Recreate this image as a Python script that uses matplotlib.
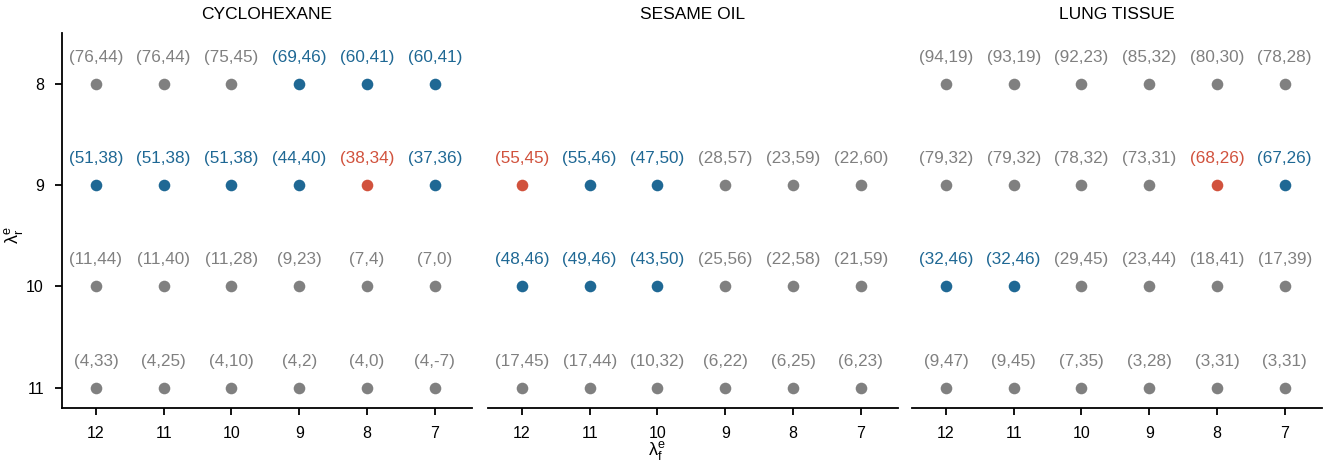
import matplotlib
matplotlib.use("Agg")
import matplotlib.pyplot as plt

plt.rcParams['font.family'] = ['Liberation Sans', 'DejaVu Sans']
plt.rcParams['mathtext.default'] = 'regular'

# lambda_f^e positions (x) and lambda_r^e rows (y)
x_vals = [12, 11, 10, 9, 8, 7]
y_vals = [8, 9, 10, 11]

titles = ['CYCLOHEXANE', 'SESAME OIL', 'LUNG TISSUE']

# labels per row (None = no point), colour code per point: g=grey, b=blue, r=red
cyclo_labels = [
    ['(76,44)', '(76,44)', '(75,45)', '(69,46)', '(60,41)', '(60,41)'],
    ['(51,38)', '(51,38)', '(51,38)', '(44,40)', '(38,34)', '(37,36)'],
    ['(11,44)', '(11,40)', '(11,28)', '(9,23)', '(7,4)', '(7,0)'],
    ['(4,33)', '(4,25)', '(4,10)', '(4,2)', '(4,0)', '(4,-7)'],
]
cyclo_colors = [
    'gggbbb',
    'bbbbrb',
    'gggggg',
    'gggggg',
]

sesame_labels = [
    [None, None, None, None, None, None],
    ['(55,45)', '(55,46)', '(47,50)', '(28,57)', '(23,59)', '(22,60)'],
    ['(48,46)', '(49,46)', '(43,50)', '(25,56)', '(22,58)', '(21,59)'],
    ['(17,45)', '(17,44)', '(10,32)', '(6,22)', '(6,25)', '(6,23)'],
]
sesame_colors = [
    'gggggg',
    'rbbggg',
    'bbbggg',
    'gggggg',
]

lung_labels = [
    ['(94,19)', '(93,19)', '(92,23)', '(85,32)', '(80,30)', '(78,28)'],
    ['(79,32)', '(79,32)', '(78,32)', '(73,31)', '(68,26)', '(67,26)'],
    ['(32,46)', '(32,46)', '(29,45)', '(23,44)', '(18,41)', '(17,39)'],
    ['(9,47)', '(9,45)', '(7,35)', '(3,28)', '(3,31)', '(3,31)'],
]
lung_colors = [
    'gggggg',
    'ggggrb',
    'bbgggg',
    'gggggg',
]

palette = {'g': '#808080', 'b': '#1f6894', 'r': '#d1523d'}

panels = [
    (cyclo_labels, cyclo_colors),
    (sesame_labels, sesame_colors),
    (lung_labels, lung_colors),
]

fig = plt.figure(figsize=(13.27, 4.63), dpi=100)
W, H = 1327.0, 463.0
lefts = [62, 488, 912]
width = 410
bottom, top = 408, 33

for i, (labels, colors) in enumerate(panels):
    ax = fig.add_axes([lefts[i] / W, 1 - bottom / H, width / W, (bottom - top) / H])
    for r, y in enumerate(y_vals):
        for c, x in enumerate(x_vals):
            lab = labels[r][c]
            if lab is None:
                continue
            col = palette[colors[r][c]]
            ax.scatter(x, y, s=70, color=col, zorder=3, linewidths=0)
            ax.annotate(lab, (x, y), xytext=(0, 19), textcoords='offset points',
                        ha='center', va='center', fontsize=12.3, color=col)
    ax.set_xlim(12.5, 6.45)
    ax.set_ylim(11.2, 7.5)
    ax.set_xticks(x_vals)
    ax.set_yticks(y_vals)
    ax.tick_params(labelsize=11.5, length=5, width=1.3, pad=8)
    ax.spines['top'].set_visible(False)
    ax.spines['right'].set_visible(False)
    ax.spines['bottom'].set_linewidth(1.3)
    ax.spines['left'].set_linewidth(1.3)
    ax.set_title(titles[i], fontsize=12.5, pad=10)
    if i == 0:
        ax.set_ylabel(r'$\lambda_r^e$', fontsize=13)
        ax.yaxis.set_label_coords(-0.09, 0.46)
    else:
        ax.spines['left'].set_visible(False)
        ax.tick_params(axis='y', left=False, labelleft=False)

fig.text(0.495, 0.027, r'$\lambda_f^e$', ha='center', va='center', fontsize=13)

fig.savefig('out.png', dpi=100)
